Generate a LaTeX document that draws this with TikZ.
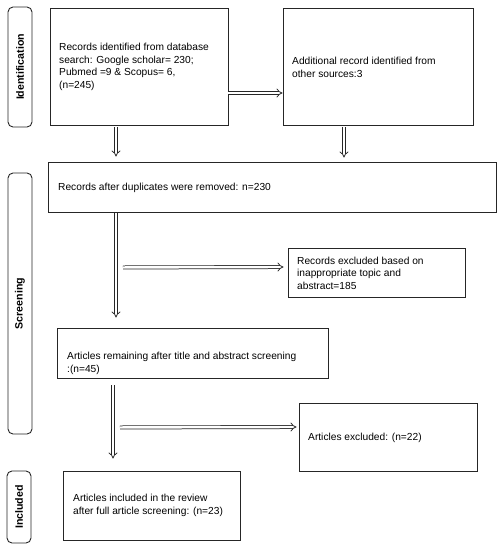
\documentclass[tikz,border=0pt]{standalone}
\usepackage{fontspec}
\setmainfont{Liberation Sans}
\usetikzlibrary{arrows.meta,calc}
\begin{document}
\begin{tikzpicture}[x=1pt,y=-1pt,
  box/.style={draw=black!85, line width=0.9pt, inner sep=0pt},
  phase/.style={draw=black!85, line width=0.9pt, rounded corners=5pt, rotate=90, inner sep=0pt,
    minimum height=24pt, font=\fontsize{10.6}{12}\selectfont\bfseries},
  txt/.style={anchor=west, align=left, inner sep=0pt, font=\fontsize{10.2}{12.6}\selectfont},
  harrow/.style={draw=black!85, double, double distance=2.4pt, line width=0.75pt, -{Implies}}]
\useasboundingbox (0,0) rectangle (503,550);

% phase labels
\node[phase, minimum width=120pt] (l1) at (20,67) {Identification};
\node[phase, minimum width=261pt] (l2) at (20,303.5) {Screening};
\node[phase, minimum width=72pt] (l3) at (19,507) {Included};

% boxes
\node[box, minimum width=178pt, minimum height=117pt] (b1) at (139,66.5) {};
\node[box, minimum width=190pt, minimum height=117pt] (b2) at (378,66.5) {};
\node[box, minimum width=448pt, minimum height=50pt] (b3) at (272,187) {};
\node[box, minimum width=177pt, minimum height=49pt] (b4) at (376.5,272.5) {};
\node[box, minimum width=271pt, minimum height=50pt] (b5) at (192.5,353) {};
\node[box, minimum width=178pt, minimum height=68pt] (b6) at (388,437) {};
\node[box, minimum width=177pt, minimum height=69pt] (b7) at (151.5,505.5) {};

% texts
\node[txt] (t1) at (59,67) {Records identified from database\\search: Google scholar= 230;\\Pubmed =9 \& Scopus= 6,\\(n=245)};
\node[txt] (t2) at (292,67.5) {Additional record identified from\\other sources:3};
\node[txt] (t3) at (58,188) {Records after duplicates were removed: n=230};
\node[txt] (t4) at (297,273) {Records excluded based on\\inappropriate topic and\\abstract=185};
\node[txt] (t5) at (67,363.5) {Articles remaining after title and abstract screening\\:(n=45)};
\node[txt] (t6) at (308,438) {Articles excluded: (n=22)};
\node[txt] (t7) at (73,505.5) {Articles included in the review\\after full article screening: (n=23)};

% arrow end points
\coordinate (a2s) at ($(b1.south)+(-23,2)$);
\coordinate (a2e) at ($(b3.north)+(-156,-5)$);
\coordinate (a3s) at ($(b2.south)+(-34,2)$);
\coordinate (a3e) at ($(b3.north)+(72,-4)$);
\coordinate (a4s) at ($(b3.south)+(-156,1)$);
\coordinate (a4e) at ($(b5.north)+(-76.5,-10)$);
\coordinate (s1) at ($(b3.south)+(-149,55)$);
\coordinate (a5e) at ($(b4.west)+(-4,-5.5)$);
\coordinate (a6s) at ($(b5.south)+(-79.5,7)$);
\coordinate (a6e) at ($(b7.north)+(-38.5,-12)$);
\coordinate (s2) at ($(b5.south)+(-72.5,49)$);
\coordinate (a7e) at ($(b6.west)+(-2,-10)$);

% connectors
\draw[harrow] ($(b1.east)+(0,26.5)$) -- ($(b2.west)+(0,26.5)$);
\draw[harrow] (a2s) -- (a2e);
\draw[harrow] (a3s) -- (a3e);
\draw[harrow] (a4s) -- (a4e);
\draw[harrow] (s1) -- (a5e);
\draw[harrow] (a6s) -- (a6e);
\draw[harrow] (s2) -- (a7e);
\end{tikzpicture}
\end{document}
